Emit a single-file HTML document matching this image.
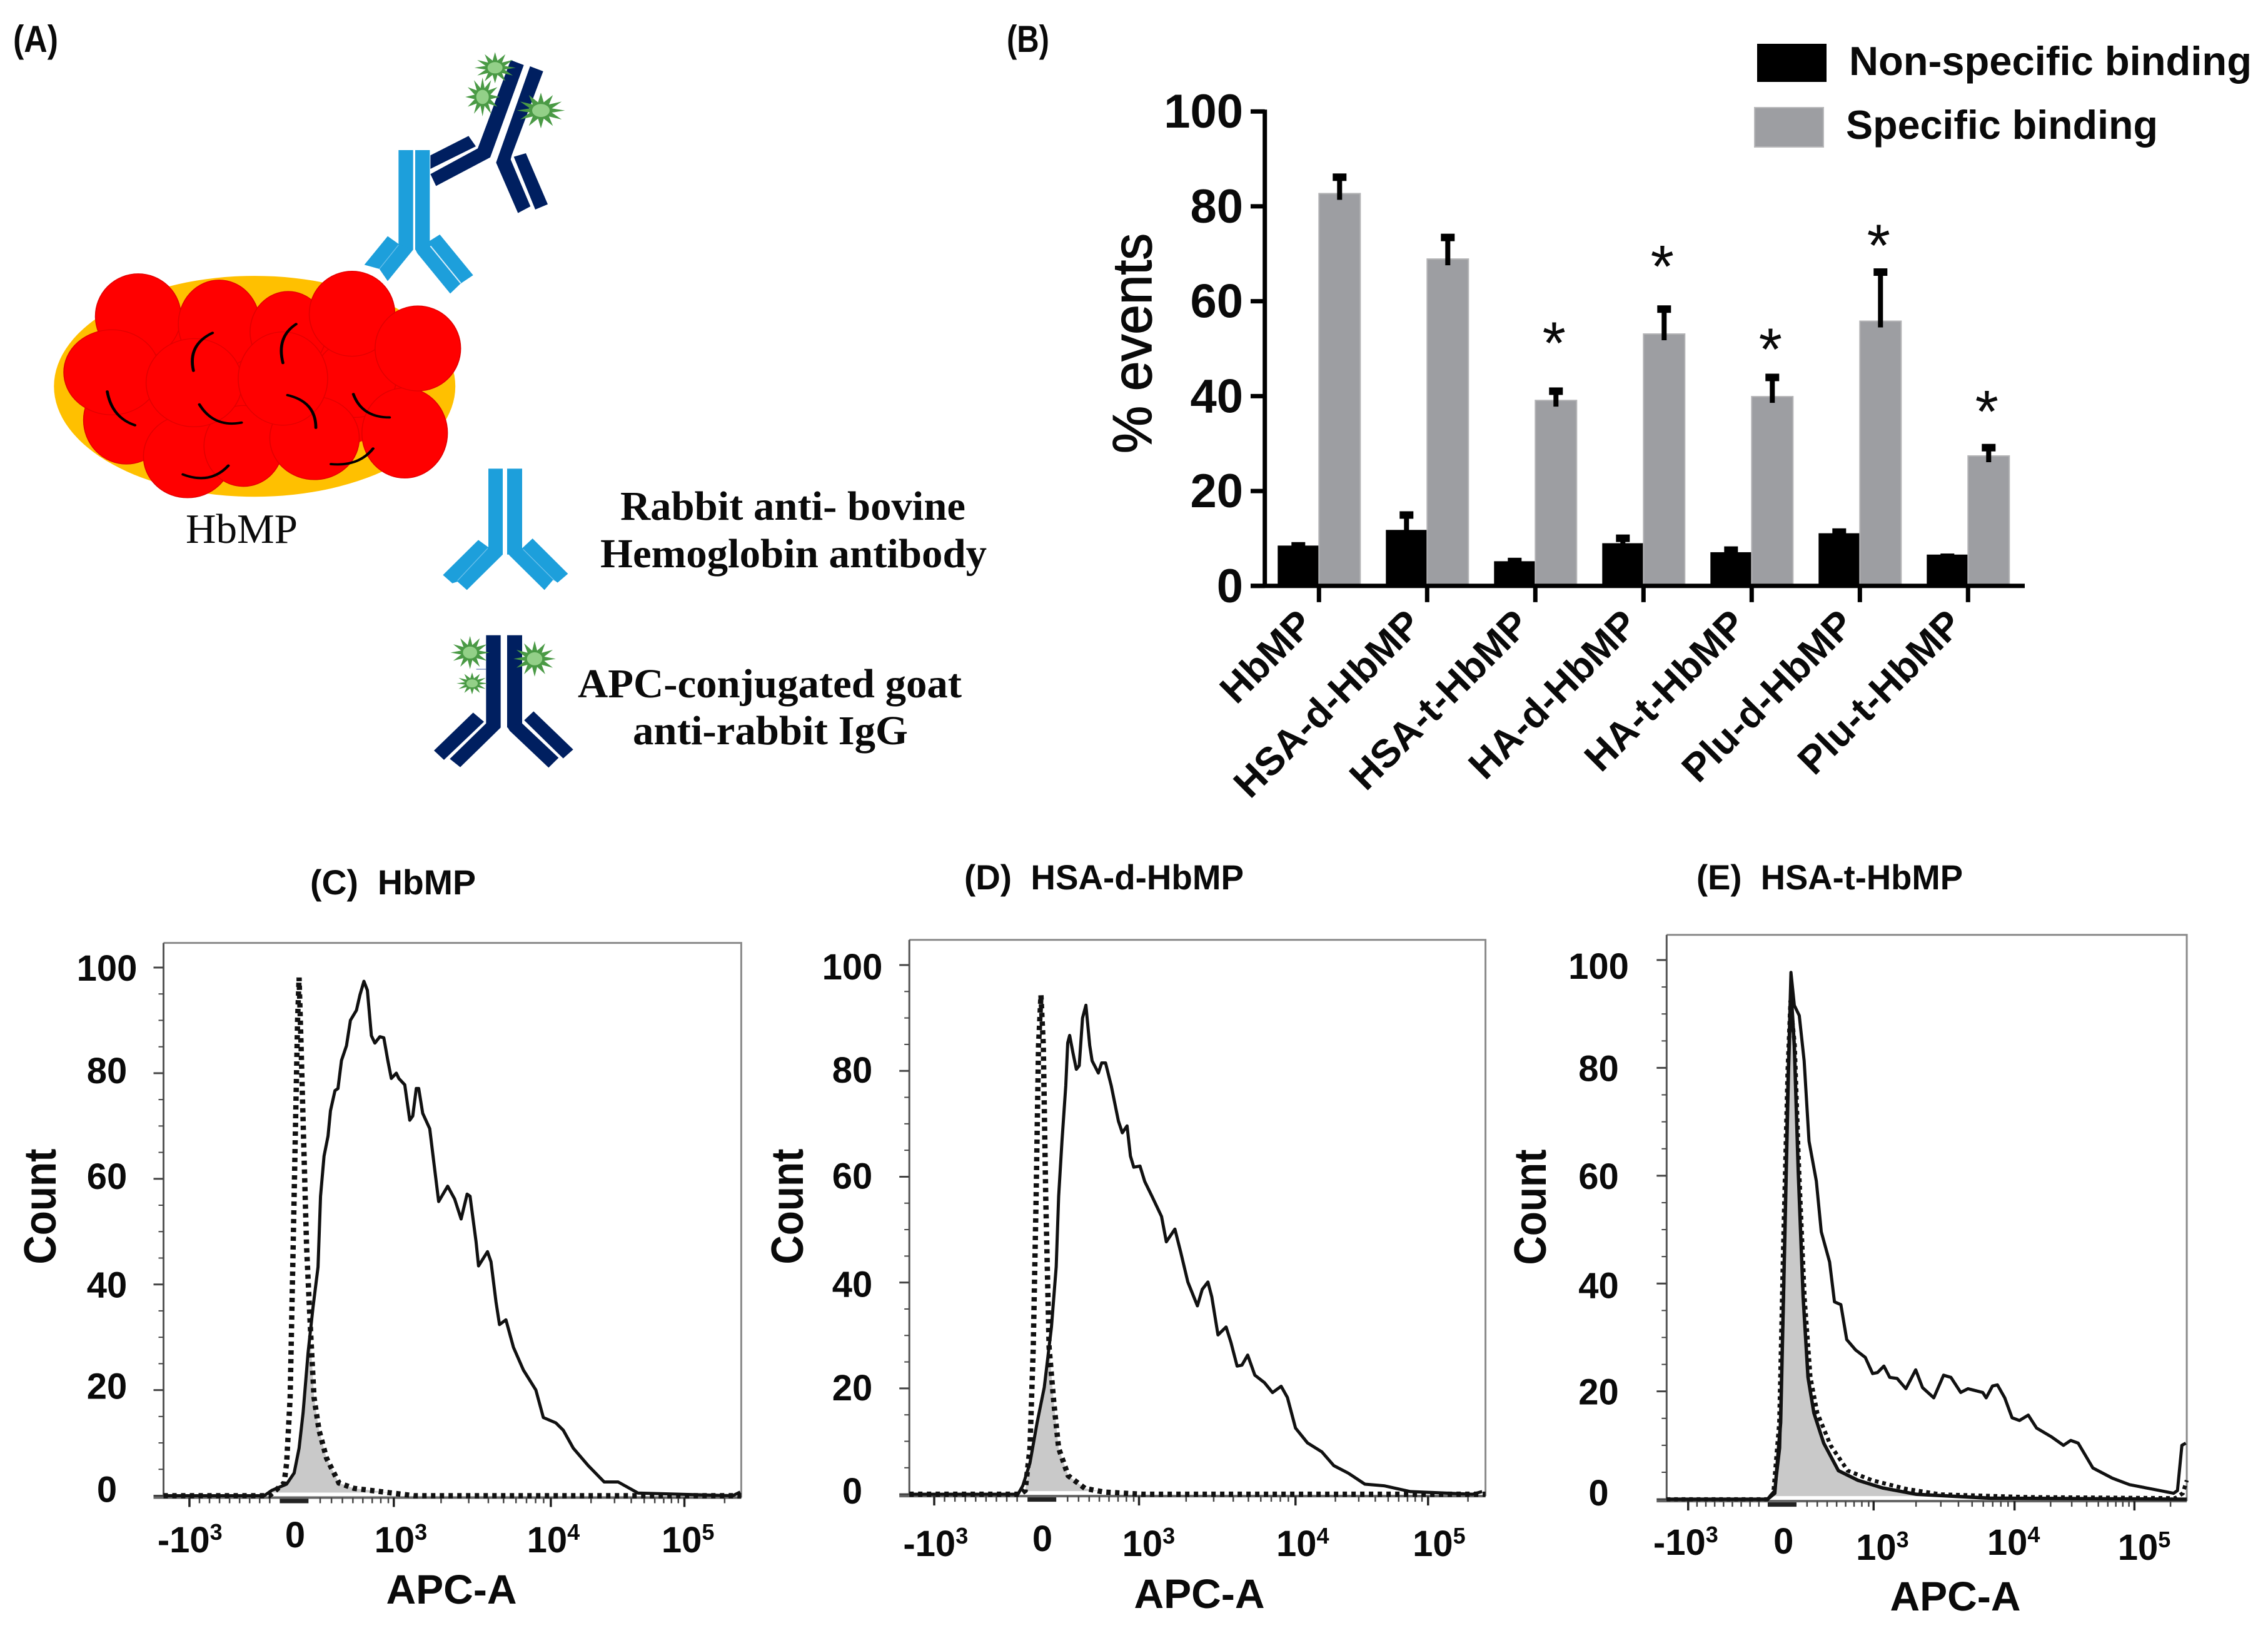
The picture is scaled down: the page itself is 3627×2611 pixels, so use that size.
<!DOCTYPE html>
<html lang="en">
<head>
<meta charset="utf-8">
<title>HbMP antibody binding figure</title>
<style>
html,body{margin:0;padding:0;background:#fff;width:3627px;height:2611px;overflow:hidden}
svg{display:block}
text{font-family:"Liberation Sans",sans-serif;fill:#0a0a0a}
.serif{font-family:"Liberation Serif",serif}
.b{font-weight:bold}
</style>
</head>
<body>
<svg id="figure" xmlns="http://www.w3.org/2000/svg" width="3627" height="2611" viewBox="0 0 3627 2611">
<defs>
<g id="star">
  <polygon fill="#4a9a45" points="1.1,0 .5,.13 .95,.55 .37,.37 .55,.95 .13,.5 0,1.1 -.13,.5 -.55,.95 -.37,.37 -.95,.55 -.5,.13 -1.1,0 -.5,-.13 -.95,-.55 -.37,-.37 -.55,-.95 -.13,-.5 0,-1.1 .13,-.5 .55,-.95 .37,-.37 .95,-.55 .5,-.13"/>
  <circle r=".4" fill="#93d088"/>
</g>
</defs>
<rect x="0" y="0" width="3627" height="2611" fill="#fff"/>

<text class="b" x="21" y="83" font-size="60" textLength="72" lengthAdjust="spacingAndGlyphs">(A)</text>
<text class="b" x="1610" y="83" font-size="60" textLength="68" lengthAdjust="spacingAndGlyphs">(B)</text>

<g id="panel-a" transform="scale(1.0523,0.8291)">
  <ellipse cx="387" cy="745" rx="305" ry="213" fill="#ffc000"/>
  <g fill="#ff0000" stroke="#e00000" stroke-width="1.5">
    <ellipse cx="400" cy="750" rx="225" ry="135" stroke="none"/>
    <ellipse cx="210" cy="610" rx="65" ry="82"/><ellipse cx="333" cy="625" rx="62" ry="85"/><ellipse cx="438" cy="640" rx="58" ry="78"/>
    <ellipse cx="540" cy="730" rx="62" ry="75"/><ellipse cx="192" cy="810" rx="65" ry="85"/><ellipse cx="285" cy="880" rx="67" ry="80"/>
    <ellipse cx="370" cy="860" rx="60" ry="78"/><ellipse cx="478" cy="845" rx="68" ry="80"/><ellipse cx="615" cy="835" rx="65" ry="87"/>
    <ellipse cx="170" cy="718" rx="73" ry="82"/><ellipse cx="295" cy="738" rx="73" ry="85"/><ellipse cx="430" cy="730" rx="68" ry="90"/>
    <ellipse cx="535" cy="605" rx="65" ry="82"/><ellipse cx="635" cy="672" rx="65" ry="82"/>
  </g>
  <g fill="none" stroke="#000" stroke-width="4.5" stroke-linecap="round">
    <path d="M323 642Q285 665 294 715"/><path d="M450 625Q420 650 430 700"/><path d="M163 755Q170 805 205 820"/><path d="M303 780Q325 825 367 815"/>
    <path d="M437 762Q480 775 480 825"/><path d="M537 760Q550 805 592 805"/><path d="M567 865Q545 900 503 895"/><path d="M347 898Q320 935 278 915"/>
  </g>
</g>

<g transform="translate(560,80) scale(.33333)">
  <g fill="#1d9fdb">
    <rect x="232" y="480" width="70" height="478"/><rect x="312" y="480" width="70" height="478"/>
    <polygon points="180,893 232,930 302,958 180,1108 140,1050 68,1030"/>
    <polygon points="312,955 382,915 430,885 590,1080 530,1120 480,1168 322,975"/>
    <path d="M140 1050L232 935" stroke="#6cc0ea" stroke-width="4" fill="none"/>
    <path d="M385 940L530 1118" stroke="#d8eefa" stroke-width="6" fill="none"/>
  </g>
  <g fill="#001f60">
    <polygon points="770,48 833,72 672,515 412,652 385,595 612,472"/>
    <polygon points="385,505 568,412 603,462 385,570"/>
    <polygon points="863,78 926,102 775,505 770,525 865,750 805,782 700,540"/>
    <polygon points="785,512 843,495 948,740 888,765"/>
  </g>
  <g>
    <use href="#star" transform="translate(695,85) scale(90,68)"/>
    <use href="#star" transform="translate(635,225) scale(75,85)"/>
    <use href="#star" transform="translate(915,290) scale(105,78)"/>
  </g>
</g>

<g transform="translate(660,730) scale(.33333)">
  <g fill="#1d9fdb">
    <rect x="363" y="58" width="69" height="412"/><rect x="453" y="58" width="72" height="412"/>
    <polygon points="145,568 315,400 363,435 432,470 260,640 215,600 190,608"/>
    <polygon points="453,460 525,440 575,393 745,562 695,605 675,590 632,640 465,475"/>
    <path d="M215 595L360 440M530 445L680 595" stroke="#6cc0ea" stroke-width="4" fill="none"/>
  </g>
  <g fill="#001f60">
    <rect x="352" y="857" width="70" height="443"/><rect x="453" y="857" width="72" height="443"/>
    <polygon points="102,1410 290,1228 342,1272 150,1455"/><polygon points="178,1450 352,1280 422,1300 228,1490"/>
    <polygon points="535,1265 580,1222 770,1405 722,1448"/><polygon points="453,1295 525,1280 700,1445 652,1492 465,1315"/>
  </g>
  <path d="M305 1020H352" stroke="#8a9cc4" stroke-width="5" fill="none"/>
  <g>
    <use href="#star" transform="translate(275,940) scale(85,72)"/>
    <use href="#star" transform="translate(585,970) scale(92,78)"/>
    <use href="#star" transform="translate(285,1088) scale(68,48)"/>
  </g>
</g>

<text class="serif" x="297" y="868" font-size="67" textLength="179" lengthAdjust="spacingAndGlyphs">HbMP</text>
<text class="serif b" x="992" y="831" font-size="66" textLength="552" lengthAdjust="spacingAndGlyphs">Rabbit anti- bovine</text>
<text class="serif b" x="960" y="907" font-size="66" textLength="618" lengthAdjust="spacingAndGlyphs">Hemoglobin antibody</text>
<text class="serif b" x="924" y="1115" font-size="66" textLength="614" lengthAdjust="spacingAndGlyphs">APC-conjugated goat</text>
<text class="serif b" x="1012" y="1190" font-size="66" textLength="440" lengthAdjust="spacingAndGlyphs">anti-rabbit IgG</text>

<g id="bar-chart"></g>
<rect x="2810" y="70" width="111" height="61" fill="#000"/>
<rect x="2806" y="172" width="110" height="63" fill="#9d9ea2" stroke="#b8b8ba" stroke-width="2"/>
<text class="b" x="2957" y="120" font-size="65" textLength="644" lengthAdjust="spacingAndGlyphs">Non-specific binding</text>
<text class="b" x="2952" y="222" font-size="65" textLength="499" lengthAdjust="spacingAndGlyphs">Specific binding</text>

<text class="b" x="496" y="1430" font-size="56" textLength="265" lengthAdjust="spacingAndGlyphs">(C)&#160;&#160;HbMP</text>
<text class="b" x="1542" y="1422" font-size="56" textLength="447" lengthAdjust="spacingAndGlyphs">(D)&#160;&#160;HSA-d-HbMP</text>
<text class="b" x="2713" y="1422" font-size="56" textLength="426" lengthAdjust="spacingAndGlyphs">(E)&#160;&#160;HSA-t-HbMP</text>
<g id="flow-c"></g>
<g id="flow-d"></g>
<g id="flow-e"></g>
</svg>

<script>
/* ---------- bar chart data ---------- */
const barCategories = ['HbMP','HSA-d-HbMP','HSA-t-HbMP','HA-d-HbMP','HA-t-HbMP','Plu-d-HbMP','Plu-t-HbMP'];
const nonSpecific = [8.5,11.8,5.2,9.0,7.1,11.1,6.6];
const nonSpecificErrorTop = [9.1,15.6,5.8,10.7,8.2,12.0,6.7];
const specific = [82.7,68.9,39.1,53.1,39.9,55.8,27.4];
const specificErrorTop = [86.8,74.1,41.7,59.0,44.6,66.8,29.8];
const significanceLevel = [null,null,53.0,69.2,51.7,73.6,38.6];
const barTicks = [0,20,40,60,80,100];

/* ---------- histogram data: x = display channel, y = % count ---------- */
const countTicks = [0,20,40,60,80,100];
const decadeBases = ['-10','0','10','10','10'];
const decadeExponents = ['3','','3','4','5'];

const cStainedChannels = [0,202,217,247,262,272,280,290,300,310,315,322,330,335,344,350,357,367,375,387,394,402,409,417,424,434,442,450,457,467,472,484,494,500,507,512,520,534,542,552,570,584,597,609,615,627,632,650,657,667,674,687,702,722,747,762,787,802,822,852,884,912,952,1142,1157];
const cStainedCounts = [0,0,1.0,2.2,4.3,9.0,15.7,27.1,35.7,43.3,56.7,64.3,68.1,72.9,76.7,77.1,82.4,85.2,90.0,91.9,94.8,97.4,95.7,87.1,85.7,86.9,86.7,82.4,79.0,80.0,79.0,77.8,71.1,71.9,77.1,77.1,72.4,69.5,63.3,55.7,58.6,56.2,52.4,57.1,56.7,48.1,43.5,46.2,44.3,36.7,32.4,33.3,28.1,23.8,20.0,14.8,13.8,12.4,9.0,5.7,2.6,2.6,0.5,0,0.7];
const cControlChannels = [0,212,242,247,254,260,266,269,272,276,280,287,294,302,312,327,352,382,442,502,1159];
const cControlCounts = [0,0,2.4,6.2,18.6,47.1,75.7,90.0,98.1,85.2,71.0,47.1,32.9,18.6,12.4,7.1,2.4,1.4,0.7,0,0];

const dStainedChannels = [0,227,237,252,267,282,297,307,312,319,327,331,335,342,349,355,362,369,377,382,395,402,410,422,437,445,455,462,469,482,492,507,527,537,555,567,582,602,612,624,632,645,662,672,685,695,707,722,742,759,777,790,807,832,862,887,917,952,992,1047,1177,1197];
const dStainedCounts = [0,0,1.6,5.9,13.5,20.2,31.6,43.0,56.3,66.7,77.2,85.3,86.7,83.4,80.3,81.0,90.0,92.4,84.8,81.9,79.6,81.5,81.5,77.2,70.5,68.3,69.6,63.9,61.8,62.0,59.1,56.3,52.5,47.7,50.1,45.8,40.1,35.6,38.7,40.1,37.3,30.1,31.6,28.7,24.2,24.4,26.3,22.5,21.1,19.2,20.4,18.3,12.5,9.7,8.0,5.4,4.0,1.9,1.6,0.5,0,0.5];
const dControlChannels = [0,232,242,252,259,265,270,275,280,285,292,302,312,332,367,407,487,1204];
const dControlCounts = [0,0,0.7,8.7,27.8,56.3,84.8,94.3,84.8,56.3,27.8,17.3,8.7,3.5,1.1,0.4,0,0];

const eStainedChannels = [0,206,221,231,239,247,254,261,271,281,291,306,316,333,343,356,368,386,406,421,431,444,456,471,489,509,523,546,566,581,601,616,646,653,666,676,691,706,721,739,756,786,811,826,841,871,911,946,991,1036,1044,1053,1061];
const eStainedCounts = [0,0,1.6,9.5,37.5,74.8,97.7,91.6,89.7,81.3,66.4,59.0,49.6,44.0,36.6,36.1,29.6,27.7,26.3,23.3,23.5,24.7,22.6,22.4,20.5,24.0,20.7,18.8,23.0,22.6,19.8,20.5,19.8,18.8,21.0,21.2,18.8,15.1,14.6,15.6,13.2,11.6,10.0,10.9,10.4,5.8,3.9,2.7,1.9,1.1,1.6,10.0,10.4];
const eControlChannels = [0,206,218,230,238,247,253,262,271,282,294,308,335,370,420,490,560,740,1040,1055,1063];
const eControlCounts = [0,0,1.1,14.2,46.8,79.5,92.5,84.1,60.8,37.5,22.6,16.0,10.0,5.3,3.5,1.9,0.9,0.4,0.2,1.1,3.5];
const eUnstainedChannels = [0,206,221,233,241,249,254,261,269,279,289,301,321,351,391,441,511,661,1063];
const eUnstainedCounts = [0,0,1.1,14.2,46.8,79.5,94.4,84.1,60.8,37.5,22.6,16.0,10.4,5.3,3.5,2.1,0.9,0.2,0];

/* ---------- helpers ---------- */
const SVGNS = 'http://www.w3.org/2000/svg';
function mk(tag, attrs, parent, txt){
  const el = document.createElementNS(SVGNS, tag);
  for (const k in attrs) el.setAttribute(k, attrs[k]);
  if (txt !== undefined) el.textContent = txt;
  parent.appendChild(el);
  return el;
}
function linePath(xs, ys, sx, sy){
  return xs.map((v,i)=>(i?'L':'M')+sx(v).toFixed(1)+' '+sy(ys[i]).toFixed(1)).join('');
}
function interp(xs, ys, x){
  for (let i=1;i<xs.length;i++){
    if (x<=xs[i]){
      const t=(x-xs[i-1])/((xs[i]-xs[i-1])||1);
      return ys[i-1]+t*(ys[i]-ys[i-1]);
    }
  }
  return ys[ys.length-1];
}

/* ---------- bar chart ---------- */
(function(){
  const root = document.getElementById('bar-chart');
  const y0=936.8, y100=178.2, axisX=2022.7, axisEnd=3238, tick0=2109.3, step=173, barW=66;
  const yScale = v => y0 - (v/100)*(y0-y100);
  const xScale = i => tick0 + i*step;

  barCategories.forEach((cat,i)=>{
    const cx = xScale(i);
    const bk = mk('rect',{x:cx-barW,y:yScale(nonSpecific[i]),width:barW,height:y0-yScale(nonSpecific[i]),fill:'#000'},root);
    
    
    const gr = mk('rect',{x:cx,y:yScale(specific[i]),width:barW,height:y0-yScale(specific[i]),fill:'#9d9ea2',stroke:'#b4b4b6','stroke-width':2},root);
    
    

    const e1x = cx-barW/2;
    const e1 = mk('path',{d:`M${e1x} ${yScale(nonSpecific[i])+4}V${yScale(nonSpecificErrorTop[i])}`,stroke:'#000','stroke-width':8,fill:'none'},root);
    
    
    const c1 = mk('rect',{x:e1x-11,y:yScale(nonSpecificErrorTop[i])-1,width:22,height:12,fill:'#000'},root);
    
    

    const e2x = cx+barW/2;
    const e2 = mk('path',{d:`M${e2x} ${yScale(specific[i])+10}V${yScale(specificErrorTop[i])}`,stroke:'#000','stroke-width':8,fill:'none'},root);
    
    
    const c2 = mk('rect',{x:e2x-11,y:yScale(specificErrorTop[i])-1,width:22,height:12,fill:'#000'},root);
    
    

    if (significanceLevel[i] !== null){
      const st = mk('text',{x:e2x-3,y:yScale(significanceLevel[i])+47,'font-size':96,'text-anchor':'middle'},root,'*');
      
      
    }

    const tk = mk('path',{d:`M${cx} ${y0}v26`,stroke:'#000','stroke-width':7},root);
    
    
    const ax=cx-6, ay=y0+65;
    const lb = mk('text',{x:ax,y:ay,'font-size':63,'font-weight':'bold','text-anchor':'end',transform:`rotate(-45 ${ax} ${ay})`},root,cat);
    
    
  });

  const axes = mk('path',{d:`M${axisX} ${y100-3}V${y0+3.5}M2000 ${y0}H${axisEnd}`,stroke:'#000','stroke-width':7,fill:'none'},root);
  
  

  barTicks.forEach(v=>{
    const t = mk('path',{d:`M2000 ${yScale(v)}H${axisX}`,stroke:'#000','stroke-width':7},root);
    
    
    const l = mk('text',{x:1988,y:yScale(v)+26,'font-size':76,'font-weight':'bold','text-anchor':'end'},root,String(v));
    
    
  });
  const title = mk('text',{x:0,y:0,transform:'translate(1841,549) rotate(-90)','font-size':88,'text-anchor':'middle',textLength:352,lengthAdjust:'spacingAndGlyphs',stroke:'#0a0a0a','stroke-width':1.5},root,'% events');
  
  
})();

/* ---------- flow histograms ---------- */
function drawFlow(rootId, L, S){
  const root = document.getElementById(rootId);
  const sx = c => L.left + (c/L.maxChannel)*(L.right-L.left);
  const sy = v => L.zero - (v/100)*(L.zero-L.y100);
  const axisY = L.zero + 3;

  /* filled control region */
  let fx, fy;
  if (S.fillChannels){
    fx = S.fillChannels; fy = S.fillCounts;
  } else {
    fx = Array.from(new Set(S.stainedChannels.concat(S.controlChannels))).sort((a,b)=>a-b);
    fy = fx.map(x=>Math.min(interp(S.stainedChannels,S.stainedCounts,x),interp(S.controlChannels,S.controlCounts,x)));
  }
  const fillBase = L.zero - 5;
  const fill = mk('path',{d:linePath(fx,fy,sx,v=>Math.min(sy(v),fillBase))+`L${sx(fx[fx.length-1])} ${fillBase}L${sx(fx[0])} ${fillBase}Z`,fill:'#c9c9c9'},root);
  
  

  /* frame */
  const frame = mk('path',{d:`M${L.left} ${L.top}H${L.right}V${axisY}`,fill:'none',stroke:'#8a8a8a','stroke-width':3},root);
  
  
  const yAxis = mk('path',{d:`M${L.left} ${L.top}V${axisY}`,fill:'none',stroke:'#555','stroke-width':3},root);
  
  
  const base = mk('path',{d:`M${L.left-16} ${axisY}H${L.right}`,stroke:'#666','stroke-width':4},root);
  
  

  /* y ticks */
  for (let v=0;v<=100;v+=5){
    const major = v%20===0;
    const t = mk('path',{d:`M${L.left-(major?16:8)} ${sy(v)}H${L.left}`,stroke:'#444','stroke-width':major?3:2},root);
    
    
  }
  countTicks.forEach((v,i)=>{
    const l = mk('text',{x:L.yLabelX,y:sy(v)+(v===0?10:21)+L.yLabelNudge[i],'font-size':58,'font-weight':'bold','text-anchor':'middle'},root,String(v));
    
    
  });

  /* x ticks */
  const tc = L.tickChannels, minors=[];
  const pxToCh = (L.maxChannel)/(L.right-L.left);
  const bandHalf = 23*pxToCh;
  const bandL = tc[1]-bandHalf, bandR = tc[1]+bandHalf;
  for (let k=1;k<=9;k++){
    const c = tc[0]+(bandL-tc[0])*k/9;
    if (k<9) minors.push(c);
  }
  for (let k=1;k<=8;k++) minors.push(bandR+(tc[2]-bandR)*(1-Math.pow(1-k/9,1.25)));
  for (let k=2;k<=9;k++){
    minors.push(tc[2]+Math.log10(k)*(tc[3]-tc[2]));
    minors.push(tc[3]+Math.log10(k)*(tc[4]-tc[3]));
  }
  minors.push(tc[4]+Math.log10(2)*(tc[4]-tc[3]));
  minors.forEach(c=>{
    const t = mk('path',{d:`M${sx(c)} ${axisY}v9`,stroke:'#444','stroke-width':2.5},root);
    
    
  });
  tc.forEach((c,i)=>{
    if (i===1) return;
    const t = mk('path',{d:`M${sx(c)} ${axisY}v15`,stroke:'#222','stroke-width':3.5},root);
    
    
  });
  const band = mk('rect',{x:sx(bandL),y:axisY+2,width:46,height:7,fill:'#222'},root);
  
  
  decadeBases.forEach((baseTxt,i)=>{
    const l = mk('text',{x:sx(L.labelChannels[i]),y:L.labelBaselines[i],'font-size':58,'font-weight':'bold','text-anchor':'middle'},root);
    
    
    mk('tspan',{},l,baseTxt);
    if (decadeExponents[i]) mk('tspan',{dy:-20,'font-size':36},l,decadeExponents[i]);
  });

  /* curves */
  const control = mk('path',{d:linePath(S.controlChannels,S.controlCounts,sx,sy),fill:'none',stroke:'#111','stroke-width':L.dotWidth,'stroke-dasharray':L.dotDash},root);
  
  
  if (S.fillChannels){
    const outline = mk('path',{d:linePath(S.fillChannels,S.fillCounts,sx,sy),fill:'none',stroke:'#111','stroke-width':5.5,'stroke-linejoin':'round'},root);
    
    
  }
  const stained = mk('path',{d:linePath(S.stainedChannels,S.stainedCounts,sx,sy),fill:'none',stroke:'#111','stroke-width':5,'stroke-linejoin':'round'},root);
  
  

  const yt = mk('text',{x:0,y:0,transform:`translate(${L.countX},${L.countY}) rotate(-90)`,'font-size':72,'font-weight':'bold','text-anchor':'middle',textLength:185,lengthAdjust:'spacingAndGlyphs'},root,'Count');
  
  
  const xt = mk('text',{x:L.apcX,y:L.apcY,'font-size':66,'font-weight':'bold','text-anchor':'middle'},root,'APC-A');
  
  
}

drawFlow('flow-c',
  {left:261.5,right:1185.4,zero:2391.5,y100:1547,top:1507.6,maxChannel:1159,yLabelX:171,yLabelNudge:[0,-7,0,-5,-5,0],
   tickChannels:[52,262,462,777,1045],labelChannels:[53,264,476,782,1052],labelBaselines:[2482,2474,2482,2482,2482],
   dotWidth:8.5,dotDash:'7 7',countX:89,countY:1929,apcX:722,apcY:2564},
  {stainedChannels:cStainedChannels,stainedCounts:cStainedCounts,controlChannels:cControlChannels,controlCounts:cControlCounts});
drawFlow('flow-d',
  {left:1454.2,right:2375.6,zero:2389.1,y100:1543,top:1502.8,maxChannel:1204,yLabelX:1363,yLabelNudge:[5,-2,2,-2,-2,2],
   tickChannels:[52,277,480,807,1084],labelChannels:[55,278,500,822,1107],labelBaselines:[2488,2480,2488,2488,2488],
   dotWidth:8.5,dotDash:'7 7',countX:1284,countY:1929,apcX:1918,apcY:2571},
  {stainedChannels:dStainedChannels,stainedCounts:dStainedCounts,controlChannels:dControlChannels,controlCounts:dControlCounts});
drawFlow('flow-e',
  {left:2665.3,right:3497.1,zero:2397.1,y100:1535,top:1494.8,maxChannel:1063,yLabelX:2556.5,yLabelNudge:[0,0,2,0,0,9],
   tickChannels:[44,236,423,711,956],labelChannels:[39,239,441,709,976],labelBaselines:[2486,2484,2494,2486,2494],
   dotWidth:6.5,dotDash:'6 6',countX:2472,countY:1930,apcX:3127,apcY:2575},
  {stainedChannels:eStainedChannels,stainedCounts:eStainedCounts,controlChannels:eControlChannels,controlCounts:eControlCounts,
   fillChannels:eUnstainedChannels,fillCounts:eUnstainedCounts});
</script>
</body>
</html>
